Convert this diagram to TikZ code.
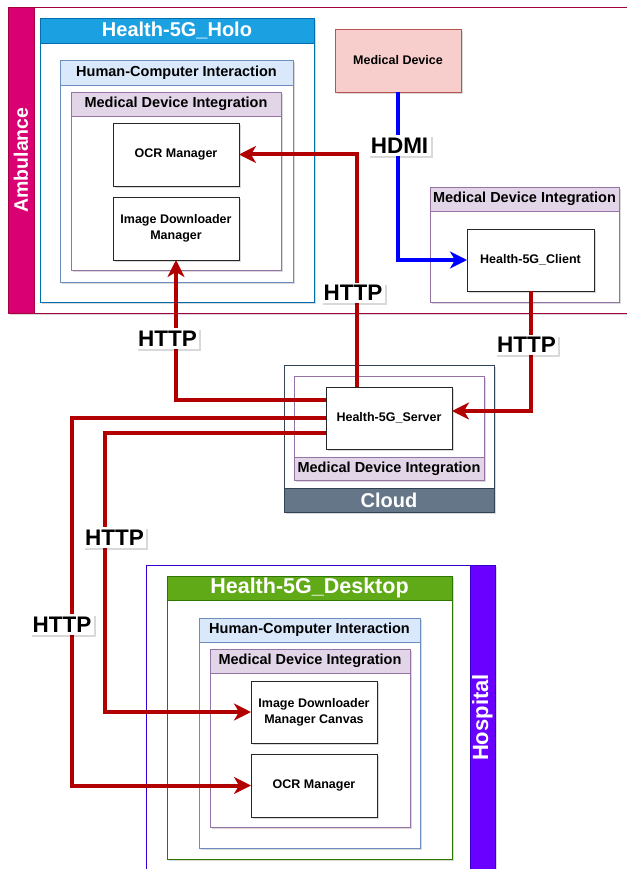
\documentclass[tikz,border=0pt]{standalone}
\usepackage{fontspec}
\setmainfont{Liberation Sans}
\usetikzlibrary{arrows.meta,fit,shadows}
\definecolor{ambF}{HTML}{D80073}
\definecolor{ambD}{HTML}{A50040}
\definecolor{hosF}{HTML}{6A00FF}
\definecolor{hosD}{HTML}{3700CC}
\definecolor{cldF}{HTML}{647687}
\definecolor{cldD}{HTML}{314354}
\definecolor{holoF}{HTML}{1BA1E2}
\definecolor{holoD}{HTML}{006EAF}
\definecolor{deskF}{HTML}{60A917}
\definecolor{deskD}{HTML}{2D7600}
\definecolor{hciF}{HTML}{DAE8FC}
\definecolor{hciD}{HTML}{6C8EBF}
\definecolor{mdiF}{HTML}{E1D5E7}
\definecolor{mdiD}{HTML}{9673A6}
\definecolor{devF}{HTML}{F8CECC}
\definecolor{devD}{HTML}{B85450}
\definecolor{httpC}{HTML}{B20000}
\definecolor{hdmiC}{HTML}{0000FF}
\begin{document}
\begin{tikzpicture}[x=1pt,y=-1pt,
  every node/.style={inner sep=0pt,outer sep=0pt},
  fs/.style={font=\fontsize{#1}{#1}\selectfont\bfseries},
  softshadow/.style={drop shadow={shadow xshift=2pt,shadow yshift=-2pt,opacity=0.15,fill=black}},
  cont/.style={draw=#1,fill=white,line width=0.8pt,softshadow},
  titlebar/.style 2 args={draw=#2,fill=#1,line width=0.8pt},
  title/.style={text=white,fs=#1},
  hdr/.style 2 args={draw=#2,fill=#1,line width=0.8pt},
  hdrtext/.style={text=black,fs=14.5},
  module/.style={draw=black!85,fill=white,line width=0.9pt,softshadow,align=center,
    font=\fontsize{12.5}{16}\selectfont\bfseries,
    minimum width=126pt,minimum height=63pt},
  http/.style={draw=httpC,line width=4pt,-{Stealth[length=17pt,width=17pt,inset=5pt]}},
  hdmi/.style={draw=hdmiC,line width=4pt,-{Stealth[length=17pt,width=17pt,inset=5pt]}},
  lbl/.style={fill=white,fs=22.5,inner sep=2.5pt,softshadow},
]
\useasboundingbox (0,0) rectangle (626,869);

% ---------- Ambulance site ----------
\node[cont=ambD,fit={(8,7)(640,313)}] (amb) {};
\node[titlebar={ambF}{ambD},fit={(8,7)(34,313)}] (ambBar) {};
\node[title=19.5,rotate=90] (ambTxt) at (ambBar) {Ambulance};

% HoloLens application
\node[cont=holoD,fit={(40,18)(314,302)}] (holo) {};
\node[titlebar={holoF}{holoD},fit={(40,18)(314,43)}] (holoT) {};
\node[title=20] (holoTx) at (holoT) {Health-5G\_Holo};
\node[cont=hciD,fit={(60,60)(293,282)}] (hciA) {};
\node[hdr={hciF}{hciD},fit={(60,60)(293,85)}] (hciAT) {};
\node[hdrtext] (hciATx) at (hciAT) {Human-Computer Interaction};
\node[cont=mdiD,fit={(71,92)(281,270)}] (mdiA) {};
\node[hdr={mdiF}{mdiD},fit={(71,92)(281,116)}] (mdiAT) {};
\node[hdrtext] (mdiATx) at (mdiAT) {Medical Device Integration};
\node[module] (hocr) at (176,154.5) {OCR Manager};
\node[module] (hidm) at (176,228.5) {Image Downloader\\Manager};

% Medical device and client
\node[module,fill=devF,draw=devD] (dev) at (398,60.5) {Medical Device};
\node[cont=mdiD,fit={(430,187)(619,302)}] (mdiC) {};
\node[hdr={mdiF}{mdiD},fit={(430,187)(619,211)}] (mdiCT) {};
\node[hdrtext] (mdiCTx) at (mdiCT) {Medical Device Integration};
\node[module,minimum width=127pt,minimum height=62pt] (cli) at (530.5,260) {Health-5G\_Client};

% ---------- Cloud ----------
\node[cont=cldD,fit={(284,365)(494,512)}] (cloud) {};
\node[cont=mdiD,fit={(294,376)(484,480)}] (mdiS) {};
\node[hdr={mdiF}{mdiD},fit={(294,457)(484,480)}] (mdiST) {};
\node[hdrtext] (mdiSTx) at (mdiST) {Medical Device Integration};
\node[titlebar={cldF}{cldD},fit={(284,488)(494,512)}] (cloudT) {};
\node[title=20] (cloudTx) at (cloudT) {Cloud};
\node[module,minimum height=62pt] (srv) at (389,418) {Health-5G\_Server};

% ---------- Hospital site ----------
\node[cont=hosD,fit={(146,565)(495,880)}] (hosp) {};
\node[titlebar={hosF}{hosD},fit={(470,565)(495,880)}] (hospBar) {};
\node[title=22,rotate=90] (hospTxt) at (482.5,717.5) {Hospital};
\node[cont=deskD,fit={(167,576)(452,859)}] (desk) {};
\node[titlebar={deskF}{deskD},fit={(167,576)(452,600)}] (deskT) {};
\node[title=21.5] (deskTx) at (deskT) {Health-5G\_Desktop};
\node[cont=hciD,fit={(199,618)(420,848)}] (hciD) {};
\node[hdr={hciF}{hciD},fit={(199,618)(420,642)}] (hciDT) {};
\node[hdrtext] (hciDTx) at (hciDT) {Human-Computer Interaction};
\node[cont=mdiD,fit={(210,649)(410,827)}] (mdiD) {};
\node[hdr={mdiF}{mdiD},fit={(210,649)(410,673)}] (mdiDT) {};
\node[hdrtext] (mdiDTx) at (mdiDT) {Medical Device Integration};
\node[module,minimum height=62pt] (didm) at (314,712) {Image Downloader\\Manager Canvas};
\node[module] (docr) at (314,785.5) {OCR Manager};

% ---------- Connectors ----------
\coordinate (laneA) at (72,0);
\coordinate (laneB) at (105,0);
\coordinate (s1) at ([yshift=18pt]srv.west);
\coordinate (s3) at ([yshift=-15pt]srv.west);
\coordinate (s0) at ([xshift=-32pt]srv.north);
\coordinate (se) at ([yshift=7pt]srv.east);

\draw[hdmi] (dev.south) |- (cli.west);
\draw[http] (s0) |- (hocr.east);
\draw[http] (s1) -| (hidm.south);
\draw[http] (srv.west) -- (srv.west -| laneA) |- (docr.west);
\draw[http] (s3) -- (s3 -| laneB) |- (didm.west);
\draw[http] (cli.south) |- (se);

% ---------- Connector labels ----------
\node[lbl] (lHdmi) at (399.5,145.5) {HDMI};
\node[lbl] (lH1) at (353,293) {HTTP};
\node[lbl] (lH2) at (167.5,338.5) {HTTP};
\node[lbl] (lH3) at (526.5,345) {HTTP};
\node[lbl] (lH4) at (114.5,537.5) {HTTP};
\node[lbl] (lH5) at (62,624.5) {HTTP};
\end{tikzpicture}
\end{document}
